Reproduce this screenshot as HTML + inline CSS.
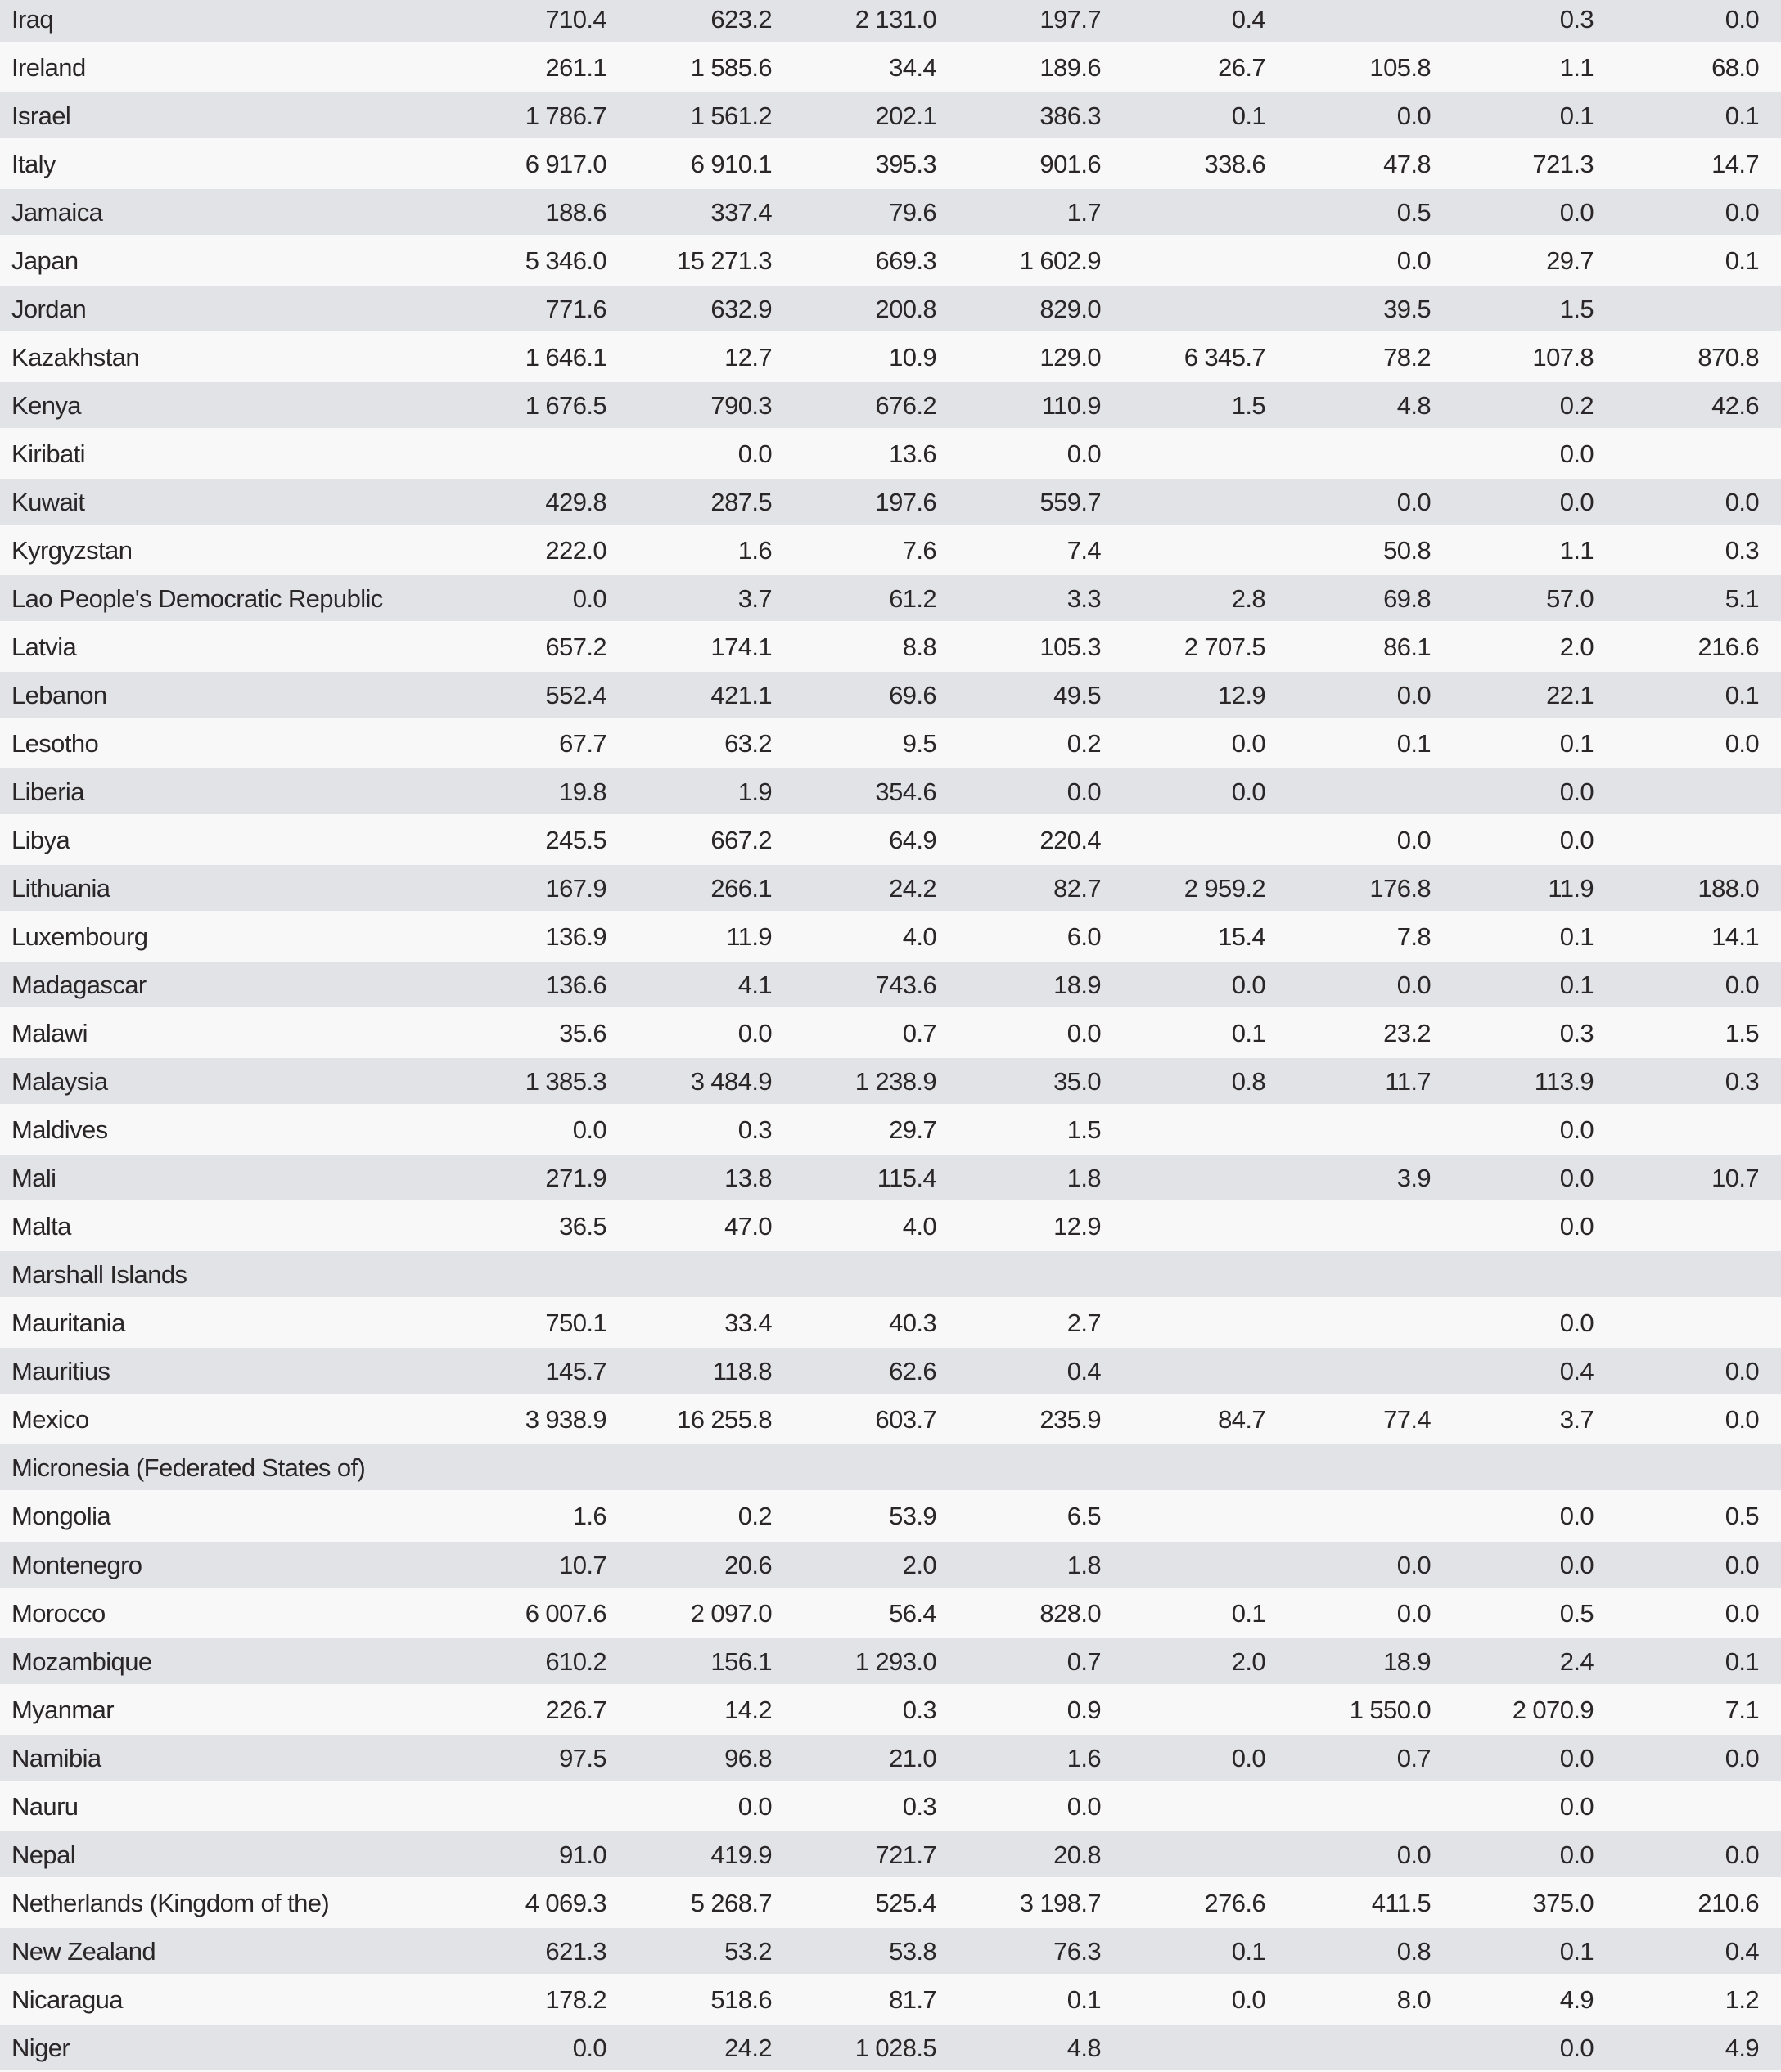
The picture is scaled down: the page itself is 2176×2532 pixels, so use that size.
<!DOCTYPE html>
<html><head><meta charset="utf-8"><style>
html,body{margin:0;padding:0;background:#f8f8f8;}
body{width:2176px;height:2531px;position:relative;overflow:hidden;font-family:"Liberation Sans",sans-serif;font-size:31px;color:#2a2627;letter-spacing:-0.6px;}
#t{margin-top:-5px;}
.r{display:flex;height:56px;line-height:58px;margin-bottom:3.03px;white-space:nowrap;}
.r:nth-child(odd){background:#e1e3e6;}
.r:nth-child(even){background:#f8f8f8;}
.r i{font-style:normal;display:block;box-sizing:border-box;}
.r i:nth-child(1){width:541px;padding-left:14px;}
.r i:nth-child(n+2){text-align:right;}
.r i:nth-child(2){width:200px}.r i:nth-child(3){width:202px}.r i:nth-child(4){width:201px}.r i:nth-child(5){width:201px}
.r i:nth-child(6){width:201px}.r i:nth-child(7){width:202px}.r i:nth-child(8){width:199px}.r i:nth-child(9){width:202px}
</style></head><body>
<div id="t">
<div class="r"><i>Iraq</i><i>710.4</i><i>623.2</i><i>2 131.0</i><i>197.7</i><i>0.4</i><i></i><i>0.3</i><i>0.0</i></div>
<div class="r"><i>Ireland</i><i>261.1</i><i>1 585.6</i><i>34.4</i><i>189.6</i><i>26.7</i><i>105.8</i><i>1.1</i><i>68.0</i></div>
<div class="r"><i>Israel</i><i>1 786.7</i><i>1 561.2</i><i>202.1</i><i>386.3</i><i>0.1</i><i>0.0</i><i>0.1</i><i>0.1</i></div>
<div class="r"><i>Italy</i><i>6 917.0</i><i>6 910.1</i><i>395.3</i><i>901.6</i><i>338.6</i><i>47.8</i><i>721.3</i><i>14.7</i></div>
<div class="r"><i>Jamaica</i><i>188.6</i><i>337.4</i><i>79.6</i><i>1.7</i><i></i><i>0.5</i><i>0.0</i><i>0.0</i></div>
<div class="r"><i>Japan</i><i>5 346.0</i><i>15 271.3</i><i>669.3</i><i>1 602.9</i><i></i><i>0.0</i><i>29.7</i><i>0.1</i></div>
<div class="r"><i>Jordan</i><i>771.6</i><i>632.9</i><i>200.8</i><i>829.0</i><i></i><i>39.5</i><i>1.5</i><i></i></div>
<div class="r"><i>Kazakhstan</i><i>1 646.1</i><i>12.7</i><i>10.9</i><i>129.0</i><i>6 345.7</i><i>78.2</i><i>107.8</i><i>870.8</i></div>
<div class="r"><i>Kenya</i><i>1 676.5</i><i>790.3</i><i>676.2</i><i>110.9</i><i>1.5</i><i>4.8</i><i>0.2</i><i>42.6</i></div>
<div class="r"><i>Kiribati</i><i></i><i>0.0</i><i>13.6</i><i>0.0</i><i></i><i></i><i>0.0</i><i></i></div>
<div class="r"><i>Kuwait</i><i>429.8</i><i>287.5</i><i>197.6</i><i>559.7</i><i></i><i>0.0</i><i>0.0</i><i>0.0</i></div>
<div class="r"><i>Kyrgyzstan</i><i>222.0</i><i>1.6</i><i>7.6</i><i>7.4</i><i></i><i>50.8</i><i>1.1</i><i>0.3</i></div>
<div class="r"><i>Lao People's Democratic Republic</i><i>0.0</i><i>3.7</i><i>61.2</i><i>3.3</i><i>2.8</i><i>69.8</i><i>57.0</i><i>5.1</i></div>
<div class="r"><i>Latvia</i><i>657.2</i><i>174.1</i><i>8.8</i><i>105.3</i><i>2 707.5</i><i>86.1</i><i>2.0</i><i>216.6</i></div>
<div class="r"><i>Lebanon</i><i>552.4</i><i>421.1</i><i>69.6</i><i>49.5</i><i>12.9</i><i>0.0</i><i>22.1</i><i>0.1</i></div>
<div class="r"><i>Lesotho</i><i>67.7</i><i>63.2</i><i>9.5</i><i>0.2</i><i>0.0</i><i>0.1</i><i>0.1</i><i>0.0</i></div>
<div class="r"><i>Liberia</i><i>19.8</i><i>1.9</i><i>354.6</i><i>0.0</i><i>0.0</i><i></i><i>0.0</i><i></i></div>
<div class="r"><i>Libya</i><i>245.5</i><i>667.2</i><i>64.9</i><i>220.4</i><i></i><i>0.0</i><i>0.0</i><i></i></div>
<div class="r"><i>Lithuania</i><i>167.9</i><i>266.1</i><i>24.2</i><i>82.7</i><i>2 959.2</i><i>176.8</i><i>11.9</i><i>188.0</i></div>
<div class="r"><i>Luxembourg</i><i>136.9</i><i>11.9</i><i>4.0</i><i>6.0</i><i>15.4</i><i>7.8</i><i>0.1</i><i>14.1</i></div>
<div class="r"><i>Madagascar</i><i>136.6</i><i>4.1</i><i>743.6</i><i>18.9</i><i>0.0</i><i>0.0</i><i>0.1</i><i>0.0</i></div>
<div class="r"><i>Malawi</i><i>35.6</i><i>0.0</i><i>0.7</i><i>0.0</i><i>0.1</i><i>23.2</i><i>0.3</i><i>1.5</i></div>
<div class="r"><i>Malaysia</i><i>1 385.3</i><i>3 484.9</i><i>1 238.9</i><i>35.0</i><i>0.8</i><i>11.7</i><i>113.9</i><i>0.3</i></div>
<div class="r"><i>Maldives</i><i>0.0</i><i>0.3</i><i>29.7</i><i>1.5</i><i></i><i></i><i>0.0</i><i></i></div>
<div class="r"><i>Mali</i><i>271.9</i><i>13.8</i><i>115.4</i><i>1.8</i><i></i><i>3.9</i><i>0.0</i><i>10.7</i></div>
<div class="r"><i>Malta</i><i>36.5</i><i>47.0</i><i>4.0</i><i>12.9</i><i></i><i></i><i>0.0</i><i></i></div>
<div class="r"><i>Marshall Islands</i><i></i><i></i><i></i><i></i><i></i><i></i><i></i><i></i></div>
<div class="r"><i>Mauritania</i><i>750.1</i><i>33.4</i><i>40.3</i><i>2.7</i><i></i><i></i><i>0.0</i><i></i></div>
<div class="r"><i>Mauritius</i><i>145.7</i><i>118.8</i><i>62.6</i><i>0.4</i><i></i><i></i><i>0.4</i><i>0.0</i></div>
<div class="r"><i>Mexico</i><i>3 938.9</i><i>16 255.8</i><i>603.7</i><i>235.9</i><i>84.7</i><i>77.4</i><i>3.7</i><i>0.0</i></div>
<div class="r"><i>Micronesia (Federated States of)</i><i></i><i></i><i></i><i></i><i></i><i></i><i></i><i></i></div>
<div class="r"><i>Mongolia</i><i>1.6</i><i>0.2</i><i>53.9</i><i>6.5</i><i></i><i></i><i>0.0</i><i>0.5</i></div>
<div class="r"><i>Montenegro</i><i>10.7</i><i>20.6</i><i>2.0</i><i>1.8</i><i></i><i>0.0</i><i>0.0</i><i>0.0</i></div>
<div class="r"><i>Morocco</i><i>6 007.6</i><i>2 097.0</i><i>56.4</i><i>828.0</i><i>0.1</i><i>0.0</i><i>0.5</i><i>0.0</i></div>
<div class="r"><i>Mozambique</i><i>610.2</i><i>156.1</i><i>1 293.0</i><i>0.7</i><i>2.0</i><i>18.9</i><i>2.4</i><i>0.1</i></div>
<div class="r"><i>Myanmar</i><i>226.7</i><i>14.2</i><i>0.3</i><i>0.9</i><i></i><i>1 550.0</i><i>2 070.9</i><i>7.1</i></div>
<div class="r"><i>Namibia</i><i>97.5</i><i>96.8</i><i>21.0</i><i>1.6</i><i>0.0</i><i>0.7</i><i>0.0</i><i>0.0</i></div>
<div class="r"><i>Nauru</i><i></i><i>0.0</i><i>0.3</i><i>0.0</i><i></i><i></i><i>0.0</i><i></i></div>
<div class="r"><i>Nepal</i><i>91.0</i><i>419.9</i><i>721.7</i><i>20.8</i><i></i><i>0.0</i><i>0.0</i><i>0.0</i></div>
<div class="r"><i>Netherlands (Kingdom of the)</i><i>4 069.3</i><i>5 268.7</i><i>525.4</i><i>3 198.7</i><i>276.6</i><i>411.5</i><i>375.0</i><i>210.6</i></div>
<div class="r"><i>New Zealand</i><i>621.3</i><i>53.2</i><i>53.8</i><i>76.3</i><i>0.1</i><i>0.8</i><i>0.1</i><i>0.4</i></div>
<div class="r"><i>Nicaragua</i><i>178.2</i><i>518.6</i><i>81.7</i><i>0.1</i><i>0.0</i><i>8.0</i><i>4.9</i><i>1.2</i></div>
<div class="r"><i>Niger</i><i>0.0</i><i>24.2</i><i>1 028.5</i><i>4.8</i><i></i><i></i><i>0.0</i><i>4.9</i></div>
</div>
</body></html>
